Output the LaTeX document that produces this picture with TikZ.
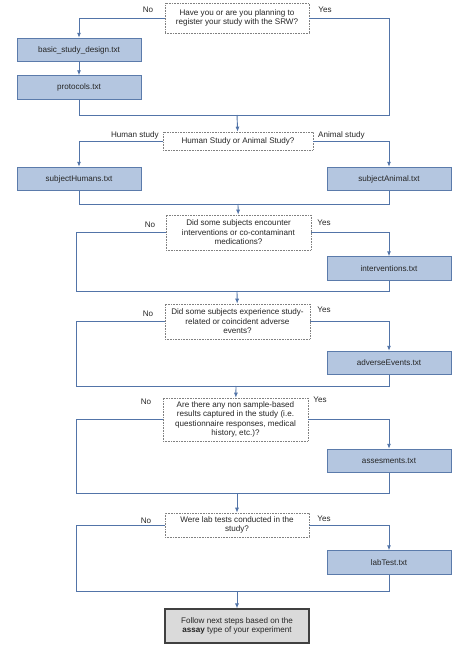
\documentclass[tikz,border=0pt]{standalone}
\usepackage{fontspec}
\setmainfont{Liberation Sans}
\usetikzlibrary{arrows.meta}

\definecolor{filefill}{HTML}{B4C6E0}
\definecolor{fileedge}{HTML}{5B7BAB}
\definecolor{flowline}{HTML}{5274A8}
\definecolor{endfill}{HTML}{DADADA}

\tikzset{
  txt/.style={font=\fontsize{8.1}{9.5}\selectfont, text=black!85},
  filebox/.style={txt, draw=fileedge, fill=filefill, line width=0.9pt,
    minimum width=124pt, minimum height=23.5pt, inner sep=0pt},
  askbox/.style={txt, draw=black!50, densely dotted, fill=white, align=center,
    line width=0.6pt, inner sep=0pt},
  endbox/.style={txt, draw=black!75, fill=endfill, align=center, line width=1.1pt,
    minimum width=144pt, minimum height=34pt, inner sep=0pt},
  lbl/.style={txt, inner sep=0pt},
  flow/.style={draw=flowline, line width=0.9pt},
  go/.style={flow, -{Latex[length=5pt,width=4pt]}}
}

\begin{document}
\begin{tikzpicture}[x=1pt,y=-1pt]
  \useasboundingbox (0,0) rectangle (474,647);

  % registration
  \node[askbox, minimum width=144pt, minimum height=30pt] (reg) at (237,18)
    {Have you or are you planning to\\register your study with the SRW?};
  \node[lbl] (regno) at (148,10) {No};
  \node[lbl] (regyes) at (325,10) {Yes};
  \node[filebox] (design) at (79,50) {basic\_study\_design.txt};
  \node[filebox] (protocols) at (79,87.5) {protocols.txt};
  \coordinate (m1) at (237,115);
  \coordinate (r1) at (389,115);
  \draw[go] (reg.west) -| (design);
  \draw[go] (design) -- (protocols);
  \draw[flow] (reg.east) -| (r1) -- (m1);
  \draw[flow] (protocols) |- (m1);

  % human or animal
  \node[askbox, minimum width=150pt, minimum height=18pt] (kind) at (238,141)
    {Human Study or Animal Study?};
  \node[lbl, anchor=east] (kindhum) at (159,135) {Human study};
  \node[lbl, anchor=west] (kindani) at (318,135) {Animal study};
  \node[filebox] (humans) at (79,179) {subjectHumans.txt};
  \node[filebox] (animal) at (389,179) {subjectAnimal.txt};
  \coordinate (m2) at (238,204);
  \draw[go] (m1) -- (kind);
  \draw[go] (kind.west) -| (humans);
  \draw[go] (kind.east) -| (animal);
  \draw[flow] (humans) |- (m2);
  \draw[flow] (animal) |- (m2);

  % interventions
  \node[askbox, minimum width=145pt, minimum height=35pt] (interq) at (238.5,232.5)
    {Did some subjects encounter\\interventions or co-contaminant\\medications?};
  \node[lbl] (interno) at (150,225) {No};
  \node[lbl] (interyes) at (324,223) {Yes};
  \node[filebox] (interv) at (389,268.5) {interventions.txt};
  \coordinate (l3) at (76,291);
  \coordinate (m3) at (237,291);
  \draw[go] (m2) -- (interq);
  \draw[go] (interq.east) -| (interv);
  \draw[flow] (interq.west) -| (l3) -- (m3);
  \draw[flow] (interv) |- (m3);

  % adverse events
  \node[askbox, minimum width=145pt, minimum height=35pt] (advq) at (237.5,321.5)
    {Did some subjects experience study-\\related or coincident adverse\\events?};
  \node[lbl] (advno) at (148,314) {No};
  \node[lbl] (advyes) at (324,310) {Yes};
  \node[filebox] (adverse) at (389,363) {adverseEvents.txt};
  \coordinate (l4) at (76,386);
  \coordinate (m4) at (236,386);
  \draw[go] (m3) -- (advq);
  \draw[go] (advq.east) -| (adverse);
  \draw[flow] (advq.west) -| (l4) -- (m4);
  \draw[flow] (adverse) |- (m4);

  % assessments
  \node[askbox, minimum width=145pt, minimum height=43pt] (assq) at (235.5,419.5)
    {Are there any non sample-based\\results captured in the study (i.e.\\questionnaire responses, medical\\history, etc.)?};
  \node[lbl] (assno) at (146,402) {No};
  \node[lbl] (assyes) at (320,400) {Yes};
  \node[filebox] (assess) at (389,461) {assesments.txt};
  \coordinate (l5) at (76,493);
  \coordinate (m5) at (237,493);
  \draw[go] (m4) -- (assq);
  \draw[go] (assq.east) -| (assess);
  \draw[flow] (assq.west) -| (l5) -- (m5);
  \draw[flow] (assess) |- (m5);

  % lab tests
  \node[askbox, minimum width=144pt, minimum height=24pt] (labq) at (237,525)
    {Were lab tests conducted in the\\study?};
  \node[lbl] (labno) at (146,521) {No};
  \node[lbl] (labyes) at (324,519) {Yes};
  \node[filebox] (labtest) at (389,562.5) {labTest.txt};
  \coordinate (l6) at (76,591);
  \coordinate (m6) at (237,591);
  \draw[go] (m5) -- (labq);
  \draw[go] (labq.east) -| (labtest);
  \draw[flow] (labq.west) -| (l6) -- (m6);
  \draw[flow] (labtest) |- (m6);

  % next steps
  \node[endbox] (next) at (237,626)
    {Follow next steps based on the\\\textbf{assay} type of your experiment};
  \draw[go] (m6) -- (next);
\end{tikzpicture}
\end{document}
